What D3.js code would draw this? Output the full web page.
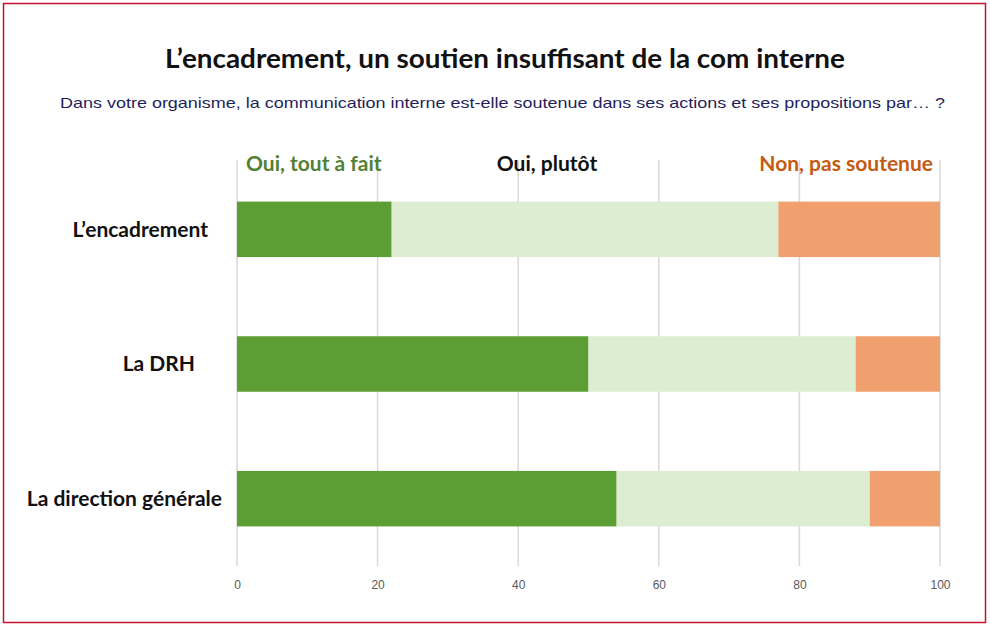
<!DOCTYPE html>
<html><head><meta charset="utf-8">
<script src="https://cdn.jsdelivr.net/npm/d3@7"></script>
<style>body{margin:0;background:#fff;}svg{display:block;}</style>
</head><body>
<svg id="c" width="990" height="627"></svg>
<script>
const categories = ["L’encadrement", "La DRH", "La direction générale"];
const seriesNames = ["Oui, tout à fait", "Oui, plutôt", "Non, pas soutenue"];
const ouiToutAFait = [22, 50, 54];
const ouiPlutot = [55, 38, 36];
const nonPasSoutenue = [23, 12, 10];
const xTicks = [0, 20, 40, 60, 80, 100];
const title = "L’encadrement, un soutien insuffisant de la com interne";
const subtitle = "Dans votre organisme, la communication interne est-elle soutenue dans ses actions et ses propositions par… ?";

const colors = ["#5c9e34", "#dcedd2", "#f0a06e"];
const legendColors = ["#538135", "#111111", "#c55a11"];

const svg = d3.select("#c");
const W = 990, H = 627;
svg.append("rect").attr("x", 3.5).attr("y", 3.5).attr("width", W - 8).attr("height", H - 8)
  .attr("fill", "#fff").attr("stroke", "#c8102e").attr("stroke-width", 1.5);

const x = d3.scaleLinear().domain([0, 100]).range([237, 940]);
const y = d3.scaleBand().domain(categories).range([162, 566]).paddingInner(0.588).paddingOuter(0.294);

// gridlines
svg.append("g").selectAll("line").data(xTicks).join("line")
  .attr("x1", d => x(d)).attr("x2", d => x(d))
  .attr("y1", 160).attr("y2", 566)
  .attr("stroke", "#d9d9d9").attr("stroke-width", 1.5);

const data = categories.map((c, i) => ({cat: c, v: [ouiToutAFait[i], ouiPlutot[i], nonPasSoutenue[i]]}));
const stack = d3.stack().keys([0, 1, 2]).value((d, k) => d.v[k]);
const layers = stack(data);

svg.append("g").selectAll("g").data(layers).join("g")
  .attr("fill", (d, i) => colors[i])
  .selectAll("rect").data(d => d).join("rect")
  .attr("x", d => x(d[0])).attr("width", d => x(d[1]) - x(d[0]))
  .attr("y", d => y(d.data.cat)).attr("height", y.bandwidth());

// axis labels
const xAxis = d3.axisBottom(x).tickValues(xTicks).tickSize(0).tickPadding(0);
const ax = svg.append("g").attr("transform", "translate(0,580)").call(xAxis);
ax.select(".domain").remove();
ax.selectAll("text").attr("font-family", "Liberation Sans Narrow, Liberation Sans, Arial, sans-serif").attr("font-size", 12).attr("fill", "#595959");

// category labels (right edges vary slightly in the source layout)
const labelEnds = [208, 195, 222];
svg.append("g").selectAll("text").data(categories).join("text")
  .attr("x", (d, i) => labelEnds[i]).attr("y", d => y(d) + y.bandwidth() / 2)
  .attr("dy", "0.35em").attr("text-anchor", "end")
  .attr("font-family", "Lato, sans-serif").attr("font-weight", "bold").attr("font-size", 21)
  .attr("fill", "#111").text(d => d);

// legend-like headers
const legendX = [246, 547, 933];
const legendAnchor = ["start", "middle", "end"];
svg.append("g").selectAll("text").data(seriesNames).join("text")
  .attr("x", (d, i) => legendX[i]).attr("y", 171)
  .attr("text-anchor", (d, i) => legendAnchor[i])
  .attr("font-family", "Lato, sans-serif").attr("font-weight", "bold").attr("font-size", 21)
  .attr("fill", (d, i) => legendColors[i]).text(d => d);

svg.append("text").attr("x", 165).attr("y", 68)
  .attr("textLength", 680).attr("lengthAdjust", "spacingAndGlyphs")
  .attr("font-family", "Lato, sans-serif").attr("font-weight", "bold").attr("font-size", 26)
  .attr("fill", "#111").text(title);

svg.append("text").attr("x", 60).attr("y", 108)
  .attr("textLength", 885).attr("lengthAdjust", "spacingAndGlyphs")
  .attr("font-family", "Liberation Sans, Arial, sans-serif").attr("font-size", 15)
  .attr("fill", "#1f1f5c").text(subtitle);
</script>
</body></html>
